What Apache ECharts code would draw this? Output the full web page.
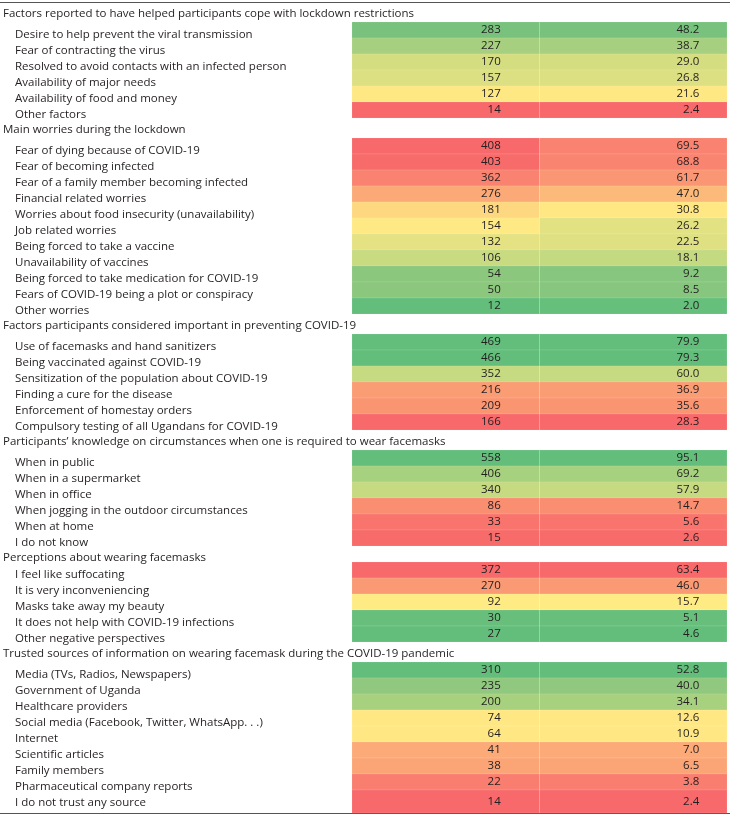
<!DOCTYPE html>
<html><head><meta charset="utf-8">
<script src="https://cdn.jsdelivr.net/npm/echarts@6/dist/echarts.min.js"></script>
<style>html,body{margin:0;padding:0;background:#fff}#c{width:730px;height:816px}</style>
</head><body><div id="c"></div><script>
// ---------- data ----------
const sectionTitles = [
  'Factors reported to have helped participants cope with lockdown restrictions',
  'Main worries during the lockdown',
  'Factors participants considered important in preventing COVID-19',
  'Participants\u2019 knowledge on circumstances when one is required to wear facemasks',
  'Perceptions about wearing facemasks',
  'Trusted sources of information on wearing facemask during the COVID-19 pandemic'
];
const copeLabels = ['Desire to help prevent the viral transmission','Fear of contracting the virus','Resolved to avoid contacts with an infected person','Availability of major needs','Availability of food and money','Other factors'];
const copeN = [283,227,170,157,127,14];
const copePct = [48.2,38.7,29.0,26.8,21.6,2.4];

const worryLabels = ['Fear of dying because of COVID-19','Fear of becoming infected','Fear of a family member becoming infected','Financial related worries','Worries about food insecurity (unavailability)','Job related worries','Being forced to take a vaccine','Unavailability of vaccines','Being forced to take medication for COVID-19','Fears of COVID-19 being a plot or conspiracy','Other worries'];
const worryN = [408,403,362,276,181,154,132,106,54,50,12];
const worryPct = [69.5,68.8,61.7,47.0,30.8,26.2,22.5,18.1,9.2,8.5,2.0];

const preventLabels = ['Use of facemasks and hand sanitizers','Being vaccinated against COVID-19','Sensitization of the population about COVID-19','Finding a cure for the disease','Enforcement of homestay orders','Compulsory testing of all Ugandans for COVID-19'];
const preventN = [469,466,352,216,209,166];
const preventPct = [79.9,79.3,60.0,36.9,35.6,28.3];

const knowLabels = ['When in public','When in a supermarket','When in office','When jogging in the outdoor circumstances','When at home','I do not know'];
const knowN = [558,406,340,86,33,15];
const knowPct = [95.1,69.2,57.9,14.7,5.6,2.6];

const percLabels = ['I feel like suffocating','It is very inconveniencing','Masks take away my beauty','It does not help with COVID-19 infections','Other negative perspectives'];
const percN = [372,270,92,30,27];
const percPct = [63.4,46.0,15.7,5.1,4.6];

const trustLabels = ['Media (TVs, Radios, Newspapers)','Government of Uganda','Healthcare providers','Social media (Facebook, Twitter, WhatsApp. . .)','Internet','Scientific articles','Family members','Pharmaceutical company reports','I do not trust any source'];
const trustN = [310,235,200,74,64,41,38,22,14];
const trustPct = [52.8,40.0,34.1,12.6,10.9,7.0,6.5,3.8,2.4];

// ---------- styles (cell fill colours) ----------
const copeColN = ['#78C27E','#A6D07F','#D4DE81','#DCE082','#FEE884','#F8696B'];
const copeColP = copeColN;
const worryColN = ['#F8696B','#F86B6B','#F98370','#FBAA77','#FED880','#FFE984','#E5E283','#C9DB81','#8CC77E','#8CC77E','#63BE7B'];
const worryColP = ['#F98370','#F98470','#FA9673','#FCBA7A','#FFE884','#E3E283','#DEE082','#C4DA80','#87C67E','#87C67E','#66BF7B'];
const preventCol = ['#63BE7B','#64BE7B','#C6DA81','#FA9C74','#FA9572','#F8696B'];
const knowCol = ['#63BE7B','#A6D17F','#C6DA81','#F98E71','#F8746D','#F86B6B'];
const percCol = ['#F8696B','#F99A74','#FFEB84','#68BF7C','#63BE7B'];
const trustCol = ['#63BE7B','#8FC87E','#A7D17F','#FFE884','#FFE884','#FCAA78','#FBA577','#F97E6F','#F8696B'];

const blocks = [
  {labels: copeLabels, n: copeN, pct: copePct, cn: copeColN, cp: copeColP},
  {labels: worryLabels, n: worryN, pct: worryPct, cn: worryColN, cp: worryColP},
  {labels: preventLabels, n: preventN, pct: preventPct, cn: preventCol, cp: preventCol},
  {labels: knowLabels, n: knowN, pct: knowPct, cn: knowCol, cp: knowCol},
  {labels: percLabels, n: percN, pct: percPct, cn: percCol, cp: percCol},
  {labels: trustLabels, n: trustN, pct: trustPct, cn: trustCol, cp: trustCol}
];

// ---------- layout (row units) ----------
const headerH = [20,20,20,20,16,20];
const ROW = 16, LAST_EXTRA = 7;
const FONT = '11.5px "Open Sans"';
const TXT = '#231F20';

const cellData = [], labelData = [], labelText = [], labelIsHeader = [];
let yy = 0;
blocks.forEach((b, bi) => {
  labelData.push([0, yy, yy + headerH[bi]]);
  labelText.push(sectionTitles[bi]); labelIsHeader.push(true);
  yy += headerH[bi];
  b.labels.forEach((lab, i) => {
    const h = (bi === blocks.length - 1 && i === b.labels.length - 1) ? ROW + LAST_EXTRA : ROW;
    labelData.push([0, yy, yy + h]);
    labelText.push(lab); labelIsHeader.push(false);
    cellData.push({value: [0, yy, yy + h, b.n[i]], itemStyle: {color: b.cn[i]}});
    cellData.push({value: [1, yy, yy + h, b.pct[i]], itemStyle: {color: b.cp[i]}});
    yy += h;
  });
});
const TOTAL = yy;

const chart = echarts.init(document.getElementById('c'), null, {renderer: 'canvas'});
chart.setOption({
  animation: false,
  backgroundColor: '#fff',
  grid: {left: 352, right: 3, top: 2, height: TOTAL},
  xAxis: {type: 'category', data: ['n', '%'], show: false, boundaryGap: true},
  yAxis: {type: 'value', min: 0, max: TOTAL, inverse: true, show: false},
  graphic: [
    {type: 'line', shape: {x1: 0, y1: 2.5, x2: 730, y2: 2.5}, style: {stroke: '#555', lineWidth: 1}},
    {type: 'line', shape: {x1: 0, y1: 2 + TOTAL + 0.5, x2: 730, y2: 2 + TOTAL + 0.5}, style: {stroke: '#555', lineWidth: 1}}
  ],
  series: [
    {
      type: 'custom', clip: false,
      encode: {x: 0, y: [1, 2]},
      data: cellData,
      renderItem: function (params, api) {
        const col = api.value(0), y0 = api.value(1), y1 = api.value(2), v = api.value(3);
        const pt = api.coord([col, y0]), pb = api.coord([col, y1]);
        const w = api.size([1, 0])[0];
        const txt = col === 1 ? v.toFixed(1) : String(v);
        const tx = pt[0] + (col === 0 ? 55 : 66);
        return {
          type: 'group',
          children: [
            {type: 'rect', shape: {x: pt[0] - w / 2, y: pt[1], width: w, height: pb[1] - pt[1]},
             style: {fill: api.visual('color'), stroke: 'rgba(255,255,255,0.1)', lineWidth: 1}},
            {type: 'text', style: {text: txt, x: tx, y: (pt[1] + pb[1]) / 2, textAlign: 'right',
              verticalAlign: 'middle', textVerticalAlign: 'middle', font: FONT, fill: TXT}}
          ]
        };
      }
    },
    {
      type: 'custom', clip: false, silent: true,
      encode: {x: 0, y: [1, 2]},
      data: labelData,
      renderItem: function (params, api) {
        const i = params.dataIndex;
        const y0 = api.value(1);
        const hdr = labelIsHeader[i];
        const p = api.coord([0, y0 + (hdr ? 12 : 13)]);
        return {type: 'text', style: {text: labelText[i], x: hdr ? 3 : 15, y: p[1],
          textAlign: 'left', verticalAlign: 'middle', textVerticalAlign: 'middle', font: FONT, fill: TXT}};
      }
    }
  ]
});
</script></body></html>
